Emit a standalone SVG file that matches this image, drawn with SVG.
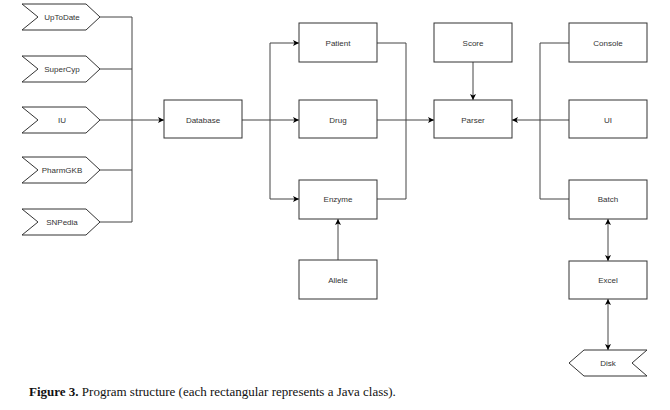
<svg xmlns="http://www.w3.org/2000/svg" width="670" height="410" viewBox="0 0 670 410">
<style>
.box{fill:#fff;stroke:#333;stroke-width:1}
.lbl{font-family:"Liberation Sans",Arial,sans-serif;font-size:8px;fill:#333;text-anchor:middle;dominant-baseline:central}
.con{fill:none;stroke:#444;stroke-width:1}
.cap{font-family:"Liberation Serif","Times New Roman",serif;font-size:13px;fill:#111}
</style>
<defs>
<marker id="ah" viewBox="0 0 10 10" refX="10" refY="5" markerWidth="6" markerHeight="6" orient="auto-start-reverse" markerUnits="userSpaceOnUse">
<path d="M0,0 L10,5 L0,10 L2.5,5 Z" fill="#000"/>
</marker>
</defs>
<rect width="670" height="410" fill="#fff"/>

<g id="connectors">
<path class="con" d="M100,17 H132 M100,69 H132 M100,120 H132 M100,170 H132 M100,222 H132 M132,17 V222"/>
<path class="con" d="M132,120 H164" marker-end="url(#ah)"/>
<path class="con" d="M242,120 H270 M270,43 V199"/>
<path class="con" d="M270,43 H299" marker-end="url(#ah)"/>
<path class="con" d="M270,120 H299" marker-end="url(#ah)"/>
<path class="con" d="M270,199 H299" marker-end="url(#ah)"/>
<path class="con" d="M338,260 V219" marker-end="url(#ah)"/>
<path class="con" d="M377,43 H406 V199 H377"/>
<path class="con" d="M377,120 H434" marker-end="url(#ah)"/>
<path class="con" d="M473,62 V100" marker-end="url(#ah)"/>
<path class="con" d="M569,43 H540 V199 H569"/>
<path class="con" d="M569,120 H512" marker-end="url(#ah)"/>
<path class="con" d="M608,219 V261" marker-start="url(#ah)" marker-end="url(#ah)"/>
<path class="con" d="M608,299 V350" marker-start="url(#ah)" marker-end="url(#ah)"/>
</g>

<g id="UpToDate"><path class="box" d="M22,4 H86 L100,17 L86,30 H22 L38,17 Z"/><text class="lbl" x="62" y="17">UpToDate</text></g>
<g id="SuperCyp"><path class="box" d="M22,56 H86 L100,69 L86,82 H22 L38,69 Z"/><text class="lbl" x="62" y="69">SuperCyp</text></g>
<g id="IU"><path class="box" d="M22,107 H86 L100,120 L86,133 H22 L38,120 Z"/><text class="lbl" x="62" y="120">IU</text></g>
<g id="PharmGKB"><path class="box" d="M22,157 H86 L100,170 L86,183 H22 L38,170 Z"/><text class="lbl" x="62" y="170">PharmGKB</text></g>
<g id="SNPedia"><path class="box" d="M22,209 H86 L100,222 L86,235 H22 L38,222 Z"/><text class="lbl" x="62" y="222">SNPedia</text></g>

<g id="Database"><rect class="box" x="164" y="100" width="78" height="38"/><text class="lbl" x="203" y="120">Database</text></g>
<g id="Patient"><rect class="box" x="299" y="23" width="78" height="39"/><text class="lbl" x="338" y="43">Patient</text></g>
<g id="Drug"><rect class="box" x="299" y="100" width="78" height="38"/><text class="lbl" x="338" y="120">Drug</text></g>
<g id="Enzyme"><rect class="box" x="299" y="180" width="78" height="39"/><text class="lbl" x="338" y="199">Enzyme</text></g>
<g id="Allele"><rect class="box" x="299" y="260" width="78" height="39"/><text class="lbl" x="338" y="280">Allele</text></g>
<g id="Score"><rect class="box" x="434" y="23" width="78" height="39"/><text class="lbl" x="473" y="43">Score</text></g>
<g id="Parser"><rect class="box" x="434" y="100" width="78" height="38"/><text class="lbl" x="473" y="120">Parser</text></g>
<g id="Console"><rect class="box" x="569" y="23" width="78" height="39"/><text class="lbl" x="608" y="43">Console</text></g>
<g id="UI"><rect class="box" x="569" y="100" width="78" height="38"/><text class="lbl" x="608" y="120">UI</text></g>
<g id="Batch"><rect class="box" x="569" y="180" width="78" height="39"/><text class="lbl" x="608" y="199">Batch</text></g>
<g id="Excel"><rect class="box" x="569" y="261" width="78" height="38"/><text class="lbl" x="608" y="280">Excel</text></g>
<g id="Disk"><path class="box" d="M569,363 L584,350 H647 L632,363 L647,376 H584 Z"/><text class="lbl" x="608" y="363">Disk</text></g>

<text class="cap" x="29" y="396"><tspan font-weight="bold">Figure 3.</tspan> Program structure (each rectangular represents a Java class).</text>
</svg>
